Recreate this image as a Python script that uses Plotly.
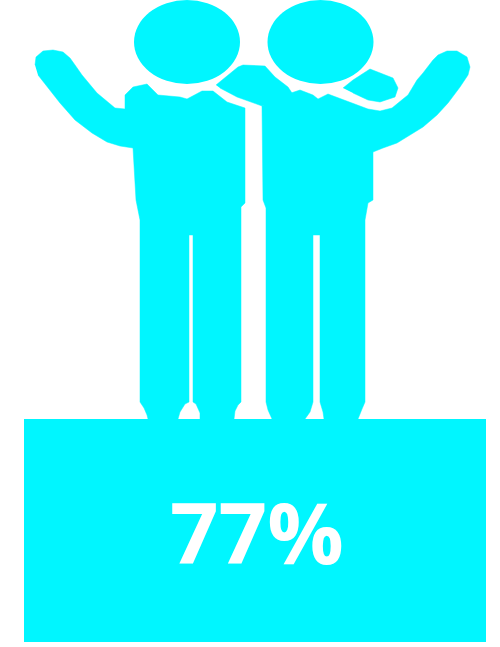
import plotly.graph_objects as go

# Chart value and palette
share_value = 77
share_label = f"{share_value}%"
cyan = "#00F6FF"

# Outline of the left figure (raised arm, torso, two legs)
left_x = [35, 36, 43, 53, 63, 70, 75, 82, 97, 115, 125, 125, 133, 147, 158, 180, 187, 202, 213, 227, 245, 245, 241, 241,
          238, 235, 234, 200, 200, 196, 193, 193, 189, 189, 185, 180, 178, 148, 147, 144, 140, 140, 136, 133,
          120, 107, 92, 75, 60, 48, 38]
left_y = [65, 57, 51, 50, 52, 58, 65, 75, 93, 108, 109, 95, 87, 84, 95, 97, 99, 91, 91, 102, 108, 203, 207, 402,
          405, 411, 419, 419, 413, 404, 402, 235, 235, 402, 404, 412, 419, 419, 415, 408, 402, 220, 200, 148,
          146, 142, 133, 120, 103, 88, 75]

# Outline of the right figure
right_x = [285, 300, 313, 318, 328, 353, 368, 380, 392, 403, 408, 417, 423, 433, 438, 447, 457, 467, 470, 468, 460, 448,
           437, 423, 410, 397, 383, 373, 373, 368, 365, 365, 362, 358, 324, 323, 320, 320, 313, 313, 310, 305, 272,
           268, 266, 266, 263, 262]
right_y = [95, 90, 95, 99, 94, 103, 109, 111, 108, 99, 95, 80, 73, 60, 55, 51, 51, 57, 67, 75, 87, 103,
           115, 127, 135, 143, 148, 152, 200, 203, 220, 402, 409, 419, 419, 412, 402, 235, 235, 402, 412, 419, 419,
           410, 402, 208, 200, 106]

# Arm of the left figure resting on the right figure's shoulder
arm_x = [216, 228, 238, 243, 265, 275, 288, 292, 285, 262, 237, 220]
arm_y = [85, 75, 67, 65, 66, 77, 87, 93, 100, 106, 97, 88]

# Hand of the right figure resting beside its own shoulder
hand_x = [343, 353, 370, 383, 393, 398, 395, 380, 368, 353]
hand_y = [88, 80, 69, 74, 78, 88, 97, 102, 100, 93]

# Heads: centre x, centre y, radius x, radius y
heads = [(187, 42, 53, 42), (320.5, 42, 53, 42)]

fig = go.Figure()

# Base bar carrying the value, on its own vertical axis
fig.add_trace(go.Bar(x=[255], y=[share_value], width=[462], yaxis="y2",
                     marker=dict(color=cyan, line=dict(width=0)), hoverinfo="skip", showlegend=False))

for xs, ys in [(left_x, left_y), (right_x, right_y), (arm_x, arm_y), (hand_x, hand_y)]:
    fig.add_trace(go.Scatter(x=xs, y=ys, mode="lines", fill="toself", fillcolor=cyan,
                             line=dict(color=cyan, width=0.5), hoverinfo="skip", showlegend=False))

shapes = [dict(type="circle", xref="x", yref="y", x0=cx - rx, x1=cx + rx, y0=cy - ry, y1=cy + ry,
               fillcolor=cyan, line=dict(width=0)) for cx, cy, rx, ry in heads]

px_per_unit = 223 / share_value
fig.update_layout(
    width=500, height=647, margin=dict(l=0, r=0, t=0, b=0),
    paper_bgcolor="white", plot_bgcolor="white", shapes=shapes,
    xaxis=dict(range=[0, 500], visible=False, fixedrange=True),
    yaxis=dict(range=[647, 0], visible=False, fixedrange=True),
    yaxis2=dict(range=[-5 / px_per_unit, 642 / px_per_unit], overlaying="y", visible=False, fixedrange=True),
    annotations=[dict(x=257, y=531, xref="x", yref="y", text=f"<b>{share_label}</b>", showarrow=False,
                      font=dict(family="Open Sans", size=85, color="white"))],
)

fig.write_html("out.html", config={"displayModeBar": False})
